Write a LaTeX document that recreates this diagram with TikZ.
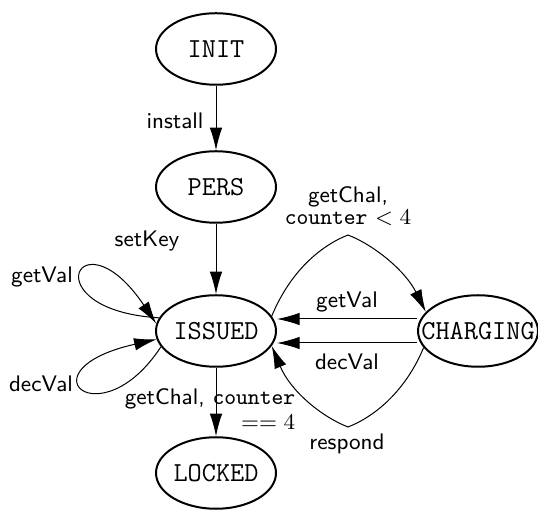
\documentclass[tikz,border=0pt]{standalone}
\usetikzlibrary{shapes.geometric,arrows.meta}
\begin{document}
\begin{tikzpicture}[x=0.4pt,y=-0.4pt,>={Latex[length=9pt,width=5pt]}]
        \useasboundingbox (0,0) rectangle (538,510);
        \begin{scope}[every node/.style={ellipse,thick,draw,inner sep=0pt,minimum width=48pt,minimum height=28.6pt,font=\ttfamily\fontsize{11pt}{13pt}\selectfont}]
            \node (I) at (216,49) {\makebox[0pt]{INIT}};
            \node (P) at (216,187) {\makebox[0pt]{PERS}};
            \node (S) at (216,331) {\makebox[0pt]{ISSUED}};
            \node (L) at (216,473) {\makebox[0pt]{LOCKED}};
            \node (C) at (478,331) {\makebox[0pt]{CHARGING}};
        \end{scope}
        \begin{scope}[every node/.style={font=\sffamily\small,inner sep=1pt}]
            \node (install) at (175,121) {install};
            \node (setkey) at (147,241) {setKey};
            \node (getvalloop) at (42,277) {getVal};
            \node (decvalloop) at (41,384) {decVal};
            \node[align=center] (getchal) at (348,206) {getChal,\\[-2pt]\texttt{counter} $<4$};
            \node (getval) at (347,302) {getVal};
            \node (decval) at (347,362) {decVal};
            \node (respond) at (347,444) {respond};
            \node[align=right] (lock) at (210,409) {getChal, \texttt{counter}\\[-1pt]$==4$};
        \end{scope}

        \draw[->] (I) -- (P);
        \draw[->] (P) -- (S);
        \draw[->] (S) -- (L);
        \draw[->] (S.167) .. controls (30,310) and (80,210) .. (S.173);
        \draw[->] (S.196) .. controls (100,440) and (20,370) .. (S.188);
        \draw[->] (S.15) .. controls (290,272) and (320,246) .. (348,235) .. controls (376,246) and (406,272) .. (C.160);
        \draw[->] ([yshift=4.8pt]C.west) -- ([yshift=4.8pt]S.east);
        \draw[->] ([yshift=-4.8pt]C.west) -- ([yshift=-4.8pt]S.east);
        \draw[->] (C.197) .. controls (406,390) and (376,416) .. (348,427) .. controls (320,416) and (290,390) .. (S.-15);
    \end{tikzpicture}
\end{document}
